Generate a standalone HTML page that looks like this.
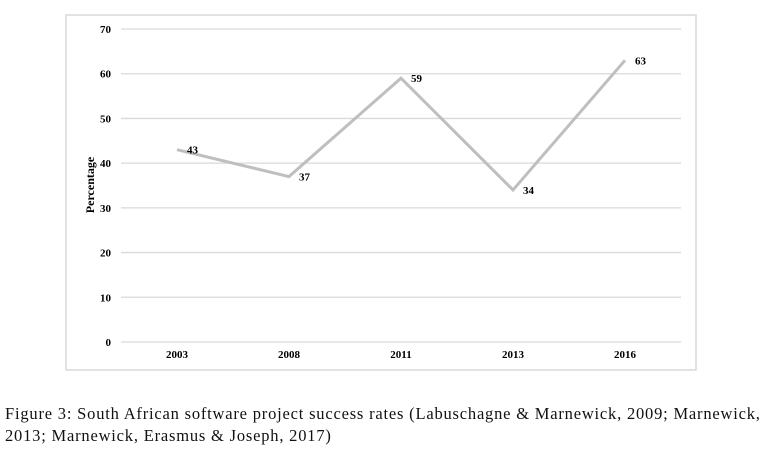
<!DOCTYPE html>
<html><head><meta charset="utf-8"><style>
body{margin:0;background:#fff;width:770px;height:451px;overflow:hidden;font-family:"Liberation Serif",serif;}
#cap{position:absolute;left:5px;top:403px;font-size:16.5px;line-height:22px;color:#111;width:765px;white-space:nowrap;letter-spacing:0.8px;}
</style></head><body>
<svg id="chart" width="770" height="395" style="position:absolute;left:0;top:0" font-family="Liberation Serif, serif">
<rect x="66" y="15" width="630" height="355" fill="#fff" stroke="#d9d9d9" stroke-width="1.5"/>
<g id="grid"></g><g id="yt"></g><g id="xt"></g><g id="ser"></g>
<text transform="translate(94,185) rotate(-90)" text-anchor="middle" font-size="12" font-weight="bold">Percentage</text>
</svg>
<div id="cap">Figure 3: South African software project success rates (Labuschagne &amp; Marnewick, 2009; Marnewick,<br>2013; Marnewick, Erasmus &amp; Joseph, 2017)</div>
<script>
const categories=["2003","2008","2011","2013","2016"];
const values=[43,37,59,34,63];
const yTicks=[0,10,20,30,40,50,60,70];
const NS="http://www.w3.org/2000/svg";
const x0=121,x1=681,y0=342,y1=29,ymax=70;
const band=(x1-x0)/categories.length;
const xs=i=>x0+band*(i+0.5);
const ys=v=>y0-(v/ymax)*(y0-y1);
function mk(t,a,p){const e=document.createElementNS(NS,t);for(const k in a)e.setAttribute(k,a[k]);p.appendChild(e);return e;}
const g=document.getElementById('grid'),yt=document.getElementById('yt'),xt=document.getElementById('xt'),s=document.getElementById('ser');
yTicks.forEach(v=>{
 const l=mk('line',{x1:x0,x2:x1,y1:ys(v),y2:ys(v),stroke:'#d9d9d9','stroke-width':1.3},g);
 
 
 const t=mk('text',{x:111,y:ys(v)+4,'text-anchor':'end','font-size':11,'font-weight':'bold'},yt);t.textContent=v;
 
 
});
categories.forEach((c,i)=>{
 const t=mk('text',{x:xs(i),y:358,'text-anchor':'middle','font-size':11,'font-weight':'bold'},xt);t.textContent=c;
 
 
});
const pl=mk('polyline',{points:values.map((v,i)=>xs(i)+','+ys(v)).join(' '),fill:'none',stroke:'#bfbfbf','stroke-width':3},s);


values.forEach((v,i)=>{
 const t=mk('text',{x:xs(i)+10,y:ys(v)+4,'font-size':11,'font-weight':'bold'},s);t.textContent=v;
 
 
});
</script>
</body></html>
